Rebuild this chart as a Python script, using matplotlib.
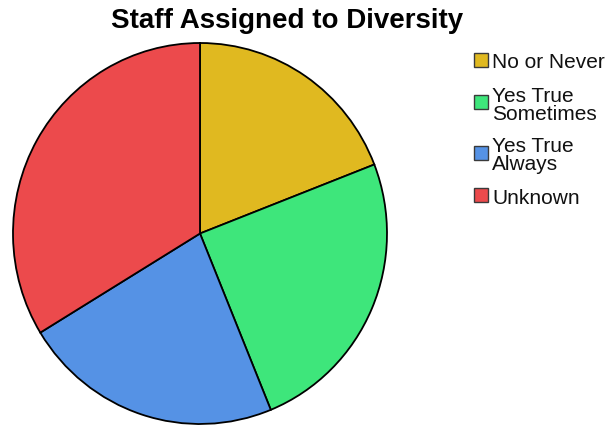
import matplotlib
matplotlib.use("Agg")
import matplotlib.pyplot as plt
from matplotlib.patches import Rectangle

categories = ["No or Never", "Yes True\nSometimes", "Yes True\nAlways", "Unknown"]
values = [17, 22, 20, 30]
colors = ["#E0B920", "#3EE67B", "#5592E5", "#EC4A4C"]

plt.rcParams['font.family'] = ['Liberation Sans', 'DejaVu Sans']

W, H = 614, 425
fig = plt.figure(figsize=(W/100, H/100), dpi=100)
# pie axes: left 13, right 387, top 43, bottom 424 (pixels)
ax = fig.add_axes([13/W, 1 - 424/H, 374/W, 381/H])
ax.pie(values, colors=colors, startangle=90, counterclock=False,
       wedgeprops=dict(edgecolor="black", linewidth=1.3), radius=1.0)
ax.set_xlim(-1.0, 1.0)
ax.set_ylim(-1.0, 1.0)
ax.set_aspect('auto')
ax.axis('off')

fig.text(287/W, 1 - 21/H, "Staff Assigned to Diversity", ha='center', va='center',
         fontsize=20, fontweight='bold')

# manual legend
line_pitch = 18
item_gap = 33
y = 60.0
sq = 14
for lab, c in zip(categories, colors):
    lines = lab.split("\n")
    first = y
    for ln in lines:
        fig.text(492/W, 1 - (y + 1)/H, ln, ha='left', va='center_baseline',
                 fontsize=15, color='#111111')
        last = y
        y += line_pitch
    y = last + item_gap
    cy = (first + last) / 2
    fig.add_artist(Rectangle((474/W, 1 - (cy + sq/2)/H), sq/W, sq/H,
                             transform=fig.transFigure, facecolor=c,
                             edgecolor='#3a3a3a', linewidth=1.0))

fig.savefig("out.png", dpi=100)
